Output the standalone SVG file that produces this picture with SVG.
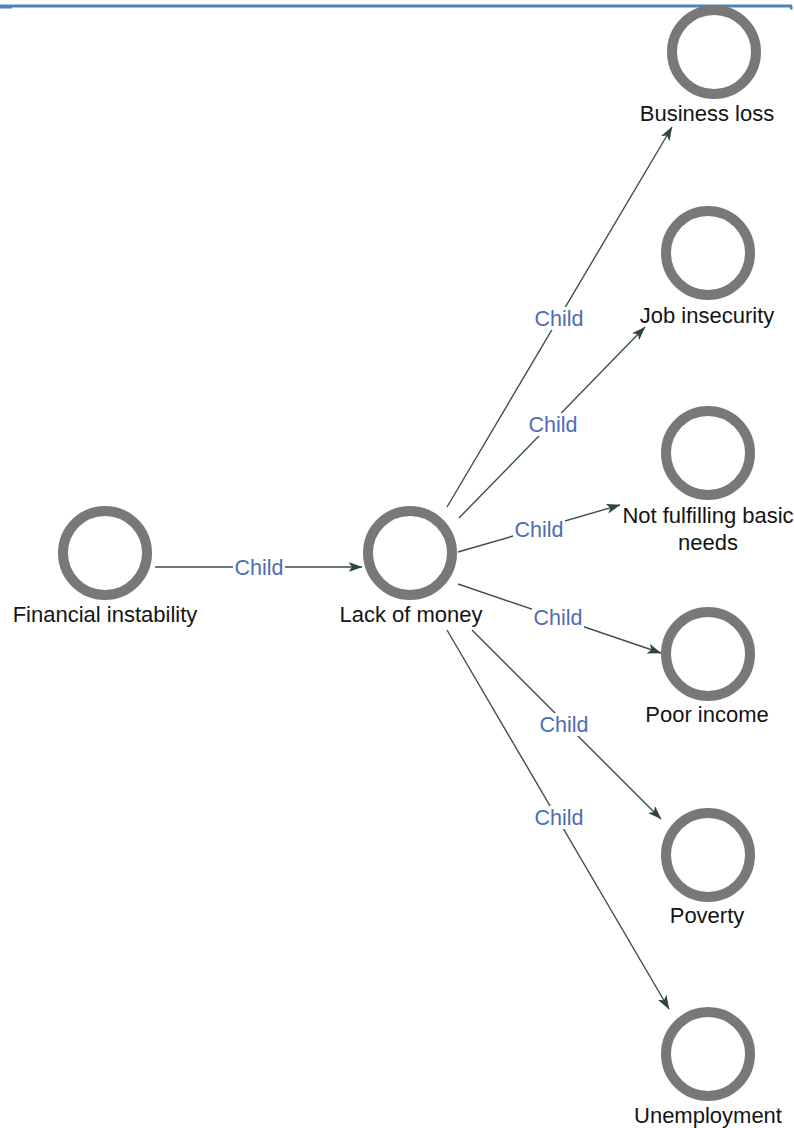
<svg xmlns="http://www.w3.org/2000/svg" width="794" height="1128" viewBox="0 0 794 1128">
  <style>
    .node circle { fill: #ffffff; stroke: #787878; stroke-width: 10; }
    .node text { font-family: "Liberation Sans", Arial, sans-serif; font-size: 22px; fill: #141414; text-anchor: middle; }
    .edge line { stroke: #3a5049; stroke-width: 1.4; fill: none; marker-end: url(#arrow); }
    .elabel rect { fill: #ffffff; }
    .elabel text { font-family: "Liberation Sans", Arial, sans-serif; font-size: 21.5px; fill: #4f6cb4; text-anchor: middle; }
  </style>
  <defs>
    <marker id="arrow" markerUnits="userSpaceOnUse" viewBox="0 0 14 10" refX="13.5" refY="5" markerWidth="14" markerHeight="10" orient="auto">
      <path d="M0,0 L14,5 L0,10 L3.5,5 Z" fill="#2f4640"/>
    </marker>
  </defs>

  <rect width="794" height="1128" fill="#ffffff"/>

  <!-- page header rule -->
  <g id="header">
    <line x1="0" y1="6" x2="792" y2="6" stroke="#4f81bd" stroke-width="3"/>
    <rect x="0" y="6" width="12" height="2.5" fill="#4f81bd"/>
    <rect x="790" y="6" width="2.5" height="3.5" fill="#4f81bd"/>
  </g>

  <!-- connectors -->
  <g id="connectors">
    <g class="edge">
      <line x1="155" y1="567" x2="362" y2="567"/>
      <line x1="447" y1="507" x2="672" y2="127"/>
      <line x1="459" y1="518" x2="645" y2="327"/>
      <line x1="458" y1="552" x2="620" y2="505"/>
      <line x1="458" y1="584" x2="661" y2="653"/>
      <line x1="472" y1="630" x2="661" y2="819"/>
      <line x1="447" y1="630" x2="669" y2="1009"/>
    </g>
    <g class="elabel">
      <rect x="233" y="556" width="52" height="22"/>
      <text x="259" y="575">Child</text>
      <rect x="533" y="307" width="52" height="23"/>
      <text x="559" y="326">Child</text>
      <rect x="527" y="413" width="52" height="23"/>
      <text x="553" y="432">Child</text>
      <rect x="513" y="518" width="52" height="23"/>
      <text x="539" y="537">Child</text>
      <rect x="532" y="606" width="52" height="23"/>
      <text x="558" y="625">Child</text>
      <rect x="538" y="713" width="52" height="23"/>
      <text x="564" y="732">Child</text>
      <rect x="533" y="806" width="52" height="23"/>
      <text x="559" y="825">Child</text>
    </g>
  </g>

  <!-- nodes -->
  <g id="financial-instability" class="node">
    <circle cx="105" cy="553" r="42"/>
    <text x="105" y="622">Financial instability</text>
  </g>
  <g id="lack-of-money" class="node">
    <circle cx="410" cy="553" r="42"/>
    <text x="411" y="622">Lack of money</text>
  </g>
  <g id="business-loss" class="node">
    <circle cx="714" cy="52" r="42"/>
    <text x="707" y="121">Business loss</text>
  </g>
  <g id="job-insecurity" class="node">
    <circle cx="708" cy="253" r="42"/>
    <text x="707" y="323">Job insecurity</text>
  </g>
  <g id="not-fulfilling-basic-needs" class="node">
    <circle cx="708" cy="453" r="42"/>
    <text x="708" y="523">Not fulfilling basic</text>
    <text x="708" y="550">needs</text>
  </g>
  <g id="poor-income" class="node">
    <circle cx="708" cy="654" r="42"/>
    <text x="707" y="722">Poor income</text>
  </g>
  <g id="poverty" class="node">
    <circle cx="708" cy="855" r="42"/>
    <text x="707" y="923">Poverty</text>
  </g>
  <g id="unemployment" class="node">
    <circle cx="708" cy="1054" r="42"/>
    <text x="708" y="1123">Unemployment</text>
  </g>
</svg>
